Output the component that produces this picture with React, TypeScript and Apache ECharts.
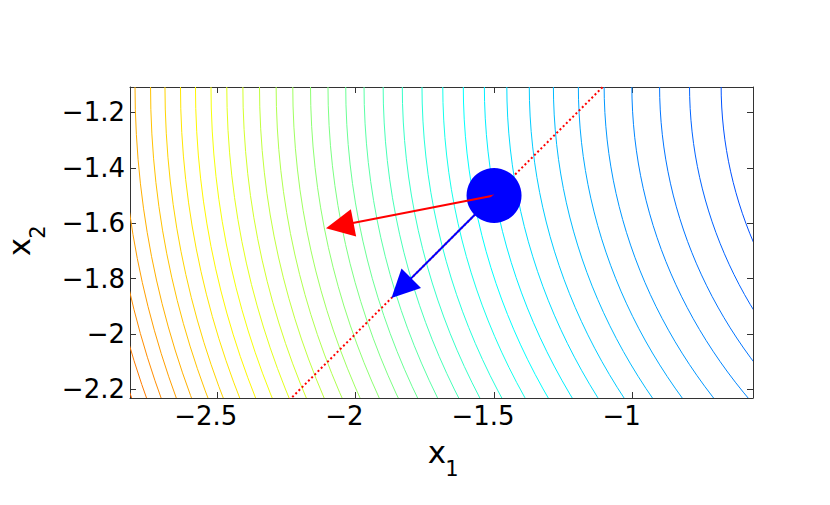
import React, { useEffect, useRef } from "react";
import * as echarts from "echarts";

// ---- data ----
const xRange = [-2.813, -0.566];
const yRange = [-2.231, -1.108];
const xTicks = [-2.5, -2, -1.5, -1];
const yTicks = [-2.2, -2, -1.8, -1.6, -1.4, -1.2];

// contour family: ellipses sharing one centre
const contourCenter = [1.02, -1.1];
const contourAspect = 0.917; // vertical / horizontal semi-axis
// x where each contour line meets the top edge of the box (first four: estimated, outside)
const contourTopX = [
  -3.0, -2.949, -2.899, -2.847, -2.795, -2.739, -2.687, -2.631, -2.577, -2.521,
  -2.464, -2.406, -2.346, -2.286, -2.226, -2.162, -2.099, -2.035, -1.969, -1.9,
  -1.831, -1.76, -1.685, -1.611, -1.535, -1.454, -1.373, -1.286, -1.196, -1.103,
  -1.003, -0.903, -0.795, -0.681,
];
// colour scale limits (level = squared horizontal semi-axis)
const colorMinLevel = -1.9;
const colorMaxLevel = 21.54;

const iterate = [-1.5, -1.5];
const gradientTip = [-2.106, -1.618];
const projectedTip = [-1.87, -1.87];
const constraintLine = [
  [-2.4, -2.4],
  [-1.0, -1.0],
];

const FONT = "'DejaVu Sans', 'Liberation Sans', Arial, sans-serif";

function jet(t: number): string {
  const c = (v: number) => Math.round(255 * Math.max(0, Math.min(1, v)));
  const r = c(1.5 - Math.abs(4 * t - 3));
  const g = c(1.5 - Math.abs(4 * t - 2));
  const b = c(1.5 - Math.abs(4 * t - 1));
  return `rgb(${r},${g},${b})`;
}

const fmt = (v: number) => String(Math.round(v * 10) / 10).replace("-", "\u2212");

export default function App() {
  const ref = useRef<HTMLDivElement>(null);

  useEffect(() => {
    document.body.style.margin = "0";
    if (!ref.current) return;
    const chart = echarts.init(ref.current, undefined, { renderer: "svg" });

    const axisLine = { show: true, onZero: false, lineStyle: { color: "#333", width: 1 } };
    const tickStyle = { color: "#333", width: 1 };

    const arrowColors = ["#ff0000", "#0000ff"];
    const arrowData = [
      [iterate[0], iterate[1], gradientTip[0], gradientTip[1]],
      [iterate[0], iterate[1], projectedTip[0], projectedTip[1]],
    ];

    const tickLabel = {
      fontSize: 26,
      fontFamily: FONT,
      color: "#000",
    };

    const option: any = {
      animation: false,
      backgroundColor: "#fff",
      grid: { left: 130, right: 77, top: 87, bottom: 107, containLabel: false },
      xAxis: [
        {
          type: "value",
          min: xRange[0],
          max: xRange[1],
          position: "bottom",
          axisLine,
          axisTick: { show: true, inside: true, length: 6, customValues: xTicks, lineStyle: tickStyle },
          axisLabel: {
            ...tickLabel,
            customValues: xTicks,
            formatter: fmt,
            margin: 5,
            padding: [0, 22, 0, 0],
          },
          splitLine: { show: false },
        },
        {
          type: "value",
          min: xRange[0],
          max: xRange[1],
          position: "top",
          axisLine,
          axisTick: { show: true, inside: true, length: 6, customValues: xTicks, lineStyle: tickStyle },
          axisLabel: { show: false },
          splitLine: { show: false },
        },
      ],
      yAxis: [
        {
          type: "value",
          min: yRange[0],
          max: yRange[1],
          position: "left",
          axisLine,
          axisTick: { show: true, inside: true, length: 6, customValues: yTicks, lineStyle: tickStyle },
          axisLabel: {
            ...tickLabel,
            customValues: yTicks,
            formatter: fmt,
            margin: 5,
          },
          splitLine: { show: false },
        },
        {
          type: "value",
          min: yRange[0],
          max: yRange[1],
          position: "right",
          axisLine,
          axisTick: { show: true, inside: true, length: 6, customValues: yTicks, lineStyle: tickStyle },
          axisLabel: { show: false },
          splitLine: { show: false },
        },
      ],
      graphic: [
        {
          type: "text",
          x: 437,
          y: 452,
          style: { text: "x", font: `31px ${FONT}`, fill: "#000", textAlign: "center", textVerticalAlign: "middle" },
        },
        {
          type: "text",
          x: 452,
          y: 469,
          style: { text: "1", font: `21px ${FONT}`, fill: "#000", textAlign: "center", textVerticalAlign: "middle" },
        },
        {
          type: "group",
          x: 30,
          y: 240,
          rotation: Math.PI / 2,
          children: [
            {
              type: "text",
              x: -7,
              y: -11,
              style: { text: "x", font: `31px ${FONT}`, fill: "#000", textAlign: "center", textVerticalAlign: "middle" },
            },
            {
              type: "text",
              x: 8,
              y: 8,
              style: { text: "2", font: `21px ${FONT}`, fill: "#000", textAlign: "center", textVerticalAlign: "middle" },
            },
          ],
        },
      ],
      series: [
        {
          type: "custom",
          name: "contours",
          clip: true,
          z: 1,
          data: contourTopX.map((x) => [contourCenter[0] - x]),
          encode: { x: 0 },
          renderItem: (params: any, api: any) => {
            const rx = api.value(0);
            const c = api.coord(contourCenter);
            const s = api.size([rx, rx * contourAspect]);
            const t = (rx * rx - colorMinLevel) / (colorMaxLevel - colorMinLevel);
            return {
              type: "ellipse",
              shape: { cx: c[0], cy: c[1], rx: s[0], ry: s[1] },
              style: { fill: "none", stroke: jet(t), lineWidth: 1 },
              silent: true,
            };
          },
        },
        {
          type: "line",
          name: "constraint",
          z: 2,
          data: constraintLine,
          showSymbol: false,
          symbol: "none",
          clip: true,
          lineStyle: { color: "#ff0000", width: 2, type: [2, 2.5] },
        },
        {
          type: "scatter",
          name: "iterate",
          z: 3,
          data: [iterate],
          symbol: "circle",
          symbolSize: 55,
          itemStyle: { color: "#0000ff", opacity: 1 },
        },
        {
          type: "custom",
          name: "arrows",
          z: 4,
          data: arrowData,
          encode: { x: [0, 2], y: [1, 3] },
          renderItem: (params: any, api: any) => {
            const p0 = api.coord([api.value(0), api.value(1)]);
            const p1 = api.coord([api.value(2), api.value(3)]);
            const dx = p1[0] - p0[0];
            const dy = p1[1] - p0[1];
            const len = Math.hypot(dx, dy);
            const ux = dx / len;
            const uy = dy / len;
            const L = 28;
            const W = 13.8;
            const bx = p1[0] - ux * L;
            const by = p1[1] - uy * L;
            const color = arrowColors[params.dataIndex];
            return {
              type: "group",
              children: [
                {
                  type: "line",
                  shape: { x1: p0[0], y1: p0[1], x2: bx + ux * 2, y2: by + uy * 2 },
                  style: { stroke: color, lineWidth: 2 },
                },
                {
                  type: "polygon",
                  shape: {
                    points: [
                      [p1[0], p1[1]],
                      [bx - uy * W, by + ux * W],
                      [bx + uy * W, by - ux * W],
                    ],
                  },
                  style: { fill: color },
                },
              ],
            };
          },
        },
      ],
    };

    chart.setOption(option);
    return () => chart.dispose();
  }, []);

  return <div ref={ref} style={{ width: 830, height: 505 }} />;
}
